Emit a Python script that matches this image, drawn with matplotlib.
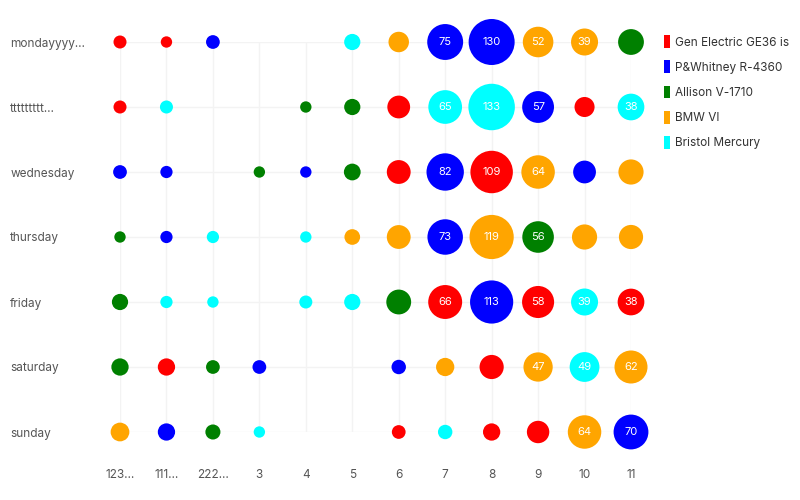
import matplotlib.pyplot as plt
from matplotlib.patches import Patch
import numpy as np

plt.rcParams['font.family'] = ['Inter', 'DejaVu Sans']

days = ['mondayyyy…', 'ttttttttt…', 'wednesday', 'thursday', 'friday', 'saturday', 'sunday']
hours = ['123…', '111…', '222…', '3', '4', '5', '6', '7', '8', '9', '10', '11']
engines = ['Gen Electric GE36 is', 'P&Whitney R-4360', 'Allison V-1710', 'BMW VI', 'Bristol Mercury']
engine_colors = ['#ff0000', '#0000ff', '#008000', '#ffa500', '#00ffff']

# value per day (row) and hour (column), None = no point
values = [
    [6, 4, 7, None, None, 11, 20, 75, 130, 52, 39, 35],
    [6, 6, None, None, 4, 11, 26, 65, 133, 57, 19, 38],
    [7, 5, None, 4, 4, 12, 29, 82, 109, 64, 26, 33],
    [4, 5, 5, None, 4, 10, 29, 73, 119, 56, 33, 30],
    [11, 5, 4, None, 6, 11, 32, 66, 113, 58, 39, 38],
    [13, 13, 7, 7, None, None, 8, 15, 30, 47, 49, 62],
    [16, 13, 9, 4, None, None, 7, 8, 13, 25, 64, 70],
]
# which engine each point belongs to (index into engines)
series = [
    [0, 0, 1, None, None, 4, 3, 1, 1, 3, 3, 2],
    [0, 4, None, None, 2, 2, 0, 4, 4, 1, 0, 4],
    [1, 1, None, 2, 1, 2, 0, 1, 0, 3, 1, 3],
    [2, 1, 4, None, 4, 3, 3, 1, 3, 2, 3, 3],
    [2, 4, 4, None, 4, 4, 2, 0, 1, 0, 4, 0],
    [2, 0, 2, 1, None, None, 1, 3, 0, 3, 4, 3],
    [3, 1, 2, 4, None, None, 0, 4, 0, 0, 3, 1],
]

fig = plt.figure(figsize=(8, 5), dpi=100)
ax = fig.add_axes([0.15, 0.136, 0.63875, 0.78])

xs, ys, sizes, cols, vals = [], [], [], [], []
for r, row in enumerate(values):
    for c, v in enumerate(row):
        if v is None:
            continue
        xs.append(c)
        ys.append(r)
        d_px = 4 + 3.684 * np.sqrt(v)
        sizes.append((d_px * 0.72) ** 2)
        cols.append(engine_colors[series[r][c]])
        vals.append(v)

ax.scatter(xs, ys, s=sizes, c=cols, linewidths=0, clip_on=False, zorder=3)
for x, y, v in zip(xs, ys, vals):
    if v >= 37:
        ax.text(x, y, str(v), color='white', fontsize=8, ha='center', va='center', zorder=4)

ax.set_xlim(0, len(hours) - 1)
ax.set_ylim(len(days) - 1, 0)
ax.set_xticks(range(len(hours)))
ax.set_xticklabels(hours)
ax.set_yticks(range(len(days)))
ax.set_yticklabels(days, ha='left')
ax.tick_params(axis='x', length=0, pad=27, labelsize=8.5, colors='#555555')
ax.tick_params(axis='y', length=0, pad=79, labelsize=8.5, colors='#555555')
ax.grid(True, color='#f3f3f3', linewidth=1, zorder=0)
for s in ax.spines.values():
    s.set_visible(False)

handles = [Patch(facecolor=col, edgecolor='none') for col in engine_colors]
fig.legend(handles, engines, loc='upper left', bbox_to_anchor=(0.817, 0.951),
           frameon=False, fontsize=8.5, handlelength=0.45, handleheight=1.3,
           handletextpad=0.45, labelspacing=1.0, labelcolor='#333333')

fig.savefig('out.png', dpi=100)
